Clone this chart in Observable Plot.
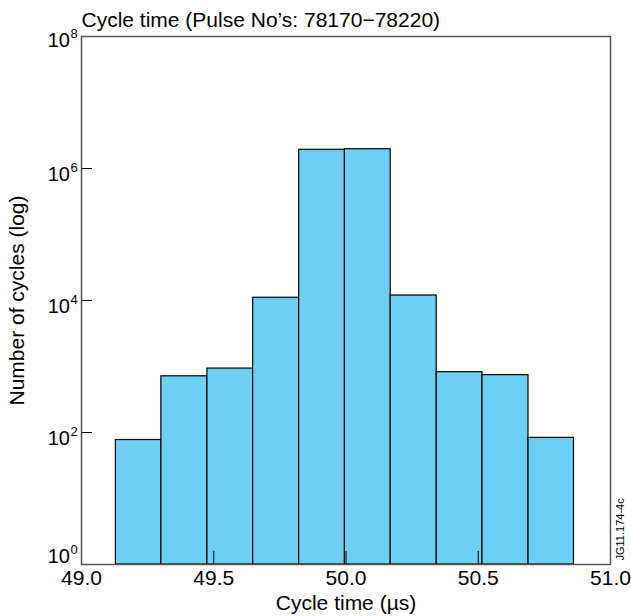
<!DOCTYPE html>
<html>
<head>
<meta charset="utf-8">
<script src="https://cdn.jsdelivr.net/npm/d3@7"></script>
<script src="https://cdn.jsdelivr.net/npm/@observablehq/plot@0.6"></script>
<style>
  html, body { margin: 0; padding: 0; background: #fff; }
  svg { display: block; }
</style>
</head>
<body>
<div id="chart"></div>
<script>
const titleText = "Cycle time (Pulse No\u2019s: 78170\u221278220)";
const xLabel = "Cycle time (\u00b5s)";
const yLabel = "Number of cycles (log)";
const stampText = "JG11.174-4c";

// bin edges (µs) and counts per bin
const binStart = [49.130, 49.302, 49.476, 49.649, 49.823, 49.996, 50.169, 50.343, 50.516, 50.690];
const binEnd   = [49.302, 49.476, 49.649, 49.823, 49.996, 50.169, 50.343, 50.516, 50.690, 50.862];
const counts   = [77, 710, 930, 11000, 1920000, 1960000, 11900, 820, 740, 83];

const xTicks = [49.0, 49.5, 50.0, 50.5, 51.0];
const xTickLabels = ["49.0", "49.5", "50.0", "50.5", "51.0"];
const yTicks = [1, 1e2, 1e4, 1e6, 1e8];
const yExponents = ["0", "2", "4", "6", "8"];

const bins = binStart.map((s, i) => ({x1: s, x2: binEnd[i], count: counts[i]}));
const xTickData = xTicks.map((v, i) => ({v, label: xTickLabels[i]}));
const yTickData = yTicks.map((v, i) => ({v, exp: yExponents[i]}));
const yBottom = yTickData.filter(d => d.v === 1);
const yTop = yTickData.filter(d => d.v === 1e8);
const yInner = yTickData.filter(d => d.v !== 1 && d.v !== 1e8);

const font = "'Liberation Sans', Arial, Helvetica, sans-serif";

function yLabelMarks(data, dy) {
  return [
    Plot.text(data, {y: "v", text: () => "10", frameAnchor: "left", textAnchor: "end", dx: -11.5, dy: dy, lineAnchor: "middle", fontSize: 20, fill: "#000"}),
    Plot.text(data, {y: "v", text: "exp", frameAnchor: "left", textAnchor: "start", dx: -11, dy: dy - 6.5, lineAnchor: "middle", fontSize: 13, fill: "#000"})
  ];
}

const chart = Plot.plot({
  width: 631,
  height: 616,
  marginLeft: 81,
  marginRight: 21,
  marginTop: 36,
  marginBottom: 52,
  style: {fontFamily: font, background: "#fff", color: "#000"},
  x: {domain: [49, 51]},
  y: {type: "log", domain: [1, 1e8]},
  marks: [
    Plot.rect(bins, {x1: "x1", x2: "x2", y1: () => 1, y2: "count", fill: "#6dcff6", stroke: "#000", strokeWidth: 1.2}),
    Plot.axisY({ticks: yTicks, tickSize: -11, tickFormat: () => "", stroke: "#000", label: null}),
    Plot.axisX({ticks: [49.5, 50, 50.5], tickSize: -13, tickFormat: () => "", stroke: "#000", label: null}),
    Plot.frame({stroke: "#555", strokeWidth: 1.5}),
    // x tick labels
    Plot.text(xTickData, {x: "v", text: "label", frameAnchor: "bottom", dy: 14, lineAnchor: "middle", fontSize: 21, fill: "#000"}),
    // y tick labels: base "10" and superscript exponent
    ...yLabelMarks(yInner, 6),
    ...yLabelMarks(yBottom, -8),
    ...yLabelMarks(yTop, 4),
    // title
    Plot.text([titleText], {frameAnchor: "top-left", textAnchor: "start", lineAnchor: "middle", dy: -16, fontSize: 21, fill: "#000"}),
    // axis labels
    Plot.text([xLabel], {frameAnchor: "bottom", textAnchor: "middle", lineAnchor: "middle", dy: 39, fontSize: 21, fill: "#000"}),
    Plot.text([yLabel], {frameAnchor: "left", textAnchor: "middle", rotate: -90, lineAnchor: "middle", dx: -64, fontSize: 21, fill: "#000"}),
    // stamp
    Plot.text([stampText], {frameAnchor: "bottom-right", rotate: -90, textAnchor: "start", lineAnchor: "middle", dx: 10, dy: -4, fontSize: 11, fill: "#000"})
  ]
});
document.getElementById("chart").appendChild(chart);
</script>
</body>
</html>
